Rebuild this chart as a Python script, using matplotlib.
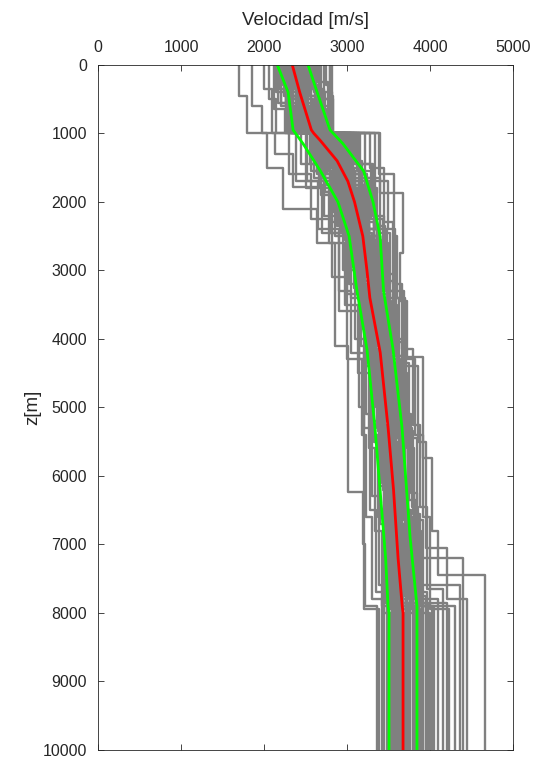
import numpy as np
import matplotlib
matplotlib.use('Agg')
import matplotlib.pyplot as plt

# layer tops (m) and layer velocities (m/s) of each sampled velocity model
prof_z = [
    [0, 450, 1000, 1500, 2100, 2600, 4100, 6230, 7000, 7900],
    [0, 600, 1000, 1300, 1780, 2450, 3600, 5000, 6400, 7950],
    [0, 350, 1000, 1600, 2250, 3100, 4300, 5400, 6600, 7800],
    [0, 500, 1000, 1700, 2400, 3300, 4200, 5300, 6500, 7700],
    [0, 650, 1000, 1450, 2200, 3000, 4000, 5100, 6300, 7600],
    [0, 400, 1000, 1800, 2600, 3500, 4500, 5600, 6800, 7900],
    [0, 550, 1000, 1550, 2300, 3200, 4100, 5200, 6500, 8000],
    [0, 300, 1000, 1650, 2500, 3400, 4400, 5500, 6700, 7850],
    [0, 700, 1000, 1400, 2150, 2900, 3900, 5000, 6200, 7750],
    [0, 450, 1000, 1750, 2450, 3350, 4250, 5350, 6550, 7950],
    [0, 500, 1000, 1500, 2350, 3150, 4150, 5250, 6450, 7650],
    [0, 600, 1000, 1850, 2550, 3450, 4350, 5450, 6650, 7900],
    [0, 350, 1000, 1600, 2300, 3250, 4200, 5300, 6400, 7800],
    [0, 550, 1000, 1700, 2400, 3300, 4300, 5400, 6600, 8000],
    [0, 400, 1000, 1450, 2250, 3050, 4050, 5150, 6350, 7700],
    [0, 650, 1000, 1550, 2350, 3200, 4150, 5250, 6500, 7850],
    [0, 500, 1000, 1800, 2500, 3400, 4400, 5500, 6700, 7950],
    [0, 300, 1000, 1650, 2450, 3350, 4250, 5350, 6550, 7750],
    [0, 600, 1000, 1500, 2300, 3100, 4100, 5200, 6400, 7900],
    [0, 450, 1000, 1750, 2550, 3450, 4350, 5450, 6650, 7800],
    [0, 550, 1000, 1600, 2400, 3250, 4200, 5300, 6500, 7950],
    [0, 350, 1000, 1700, 2500, 3350, 4300, 5400, 6600, 7850],
    [0, 650, 1000, 1450, 2250, 3150, 4050, 5150, 6350, 7700],
    [0, 500, 1000, 1550, 2350, 3300, 4250, 5300, 6450, 8000],
    [0, 400, 1000, 1800, 2600, 3500, 4500, 5600, 6800, 7900],
    [0, 600, 1000, 1650, 2450, 3400, 4350, 5450, 6650, 7800],
    [0, 300, 1000, 1500, 2300, 3200, 4150, 5250, 6450, 7650],
    [0, 550, 1000, 1700, 2400, 3300, 4300, 5400, 6600, 7950],
    [0, 450, 1000, 1870, 2745, 3450, 4260, 5740, 6800, 7450],
    [0, 500, 1000, 1600, 2500, 3400, 4400, 5500, 7050, 7800],
    [0, 350, 1000, 1550, 2350, 3250, 4200, 5300, 6500, 7200],
    [0, 600, 1000, 1650, 2450, 3350, 4250, 5350, 6550, 7600],
    [0, 400, 1000, 1750, 2550, 3300, 4300, 5400, 6600, 7900],
    [0, 500, 1000, 1500, 2300, 3200, 4100, 5200, 6400, 7850],
    [0, 650, 1000, 1800, 2600, 3500, 4500, 5500, 6700, 7750],
    [0, 300, 1000, 1600, 2400, 3300, 4200, 5300, 6500, 8000],
    [0, 250, 1000, 1350, 2050, 2850, 3800, 4900, 6100, 7700],
    [0, 750, 1000, 1900, 2650, 3550, 4600, 5700, 6900, 7950],
    [0, 200, 1000, 1400, 2200, 3000, 3950, 5050, 6250, 7800],
    [0, 800, 1000, 1550, 2300, 3150, 4100, 5200, 6350, 7900],
    [0, 300, 1000, 1700, 2500, 3400, 4350, 5450, 6700, 7700],
    [0, 600, 1000, 1450, 2150, 2950, 3850, 4950, 6150, 7850],
    [0, 450, 1000, 1850, 2650, 3600, 4550, 5650, 6850, 7950],
    [0, 550, 1000, 1500, 2250, 3100, 4000, 5100, 6300, 7600],
    [0, 350, 1000, 1600, 2400, 3300, 4250, 5350, 6550, 7900],
    [0, 650, 1000, 1750, 2550, 3450, 4400, 5500, 6700, 7800],
    [0, 500, 1000, 1650, 2350, 3250, 4200, 5300, 6500, 7950],
    [0, 400, 1000, 1550, 2300, 3150, 4150, 5250, 6450, 7750],
    [0, 700, 1000, 1800, 2600, 3500, 4450, 5550, 6750, 7900],
    [0, 250, 1000, 1450, 2200, 3050, 4000, 5100, 6250, 7850],
    [0, 550, 1000, 1700, 2450, 3350, 4300, 5400, 6600, 7700],
    [0, 450, 1000, 1600, 2350, 3200, 4150, 5250, 6400, 7950],
    [0, 600, 1000, 1500, 2250, 3100, 4100, 5150, 6350, 7800],
    [0, 350, 1000, 1750, 2500, 3400, 4350, 5450, 6650, 7650],
    [0, 500, 1000, 1650, 2400, 3300, 4250, 5350, 6550, 7900],
    [0, 650, 1000, 1550, 2300, 3200, 4150, 5200, 6400, 7800],
    [0, 300, 1000, 1850, 2600, 3500, 4450, 5550, 6750, 7950],
    [0, 450, 1000, 1400, 2150, 2950, 3900, 5000, 6200, 7700],
    [0, 550, 1000, 1600, 2450, 3350, 4300, 5400, 6600, 7850],
    [0, 400, 1000, 1700, 2500, 3400, 4400, 5500, 6700, 7900],
]
prof_v = [
    [1700, 1790, 2040, 2230, 2640, 2860, 3010, 3190, 3220, 3360],
    [1850, 1980, 2130, 2350, 2700, 2900, 3140, 3200, 3200, 3380],
    [2000, 2100, 2300, 2560, 2820, 3000, 3180, 3230, 3300, 3420],
    [2060, 2150, 2380, 2650, 2900, 3050, 3200, 3280, 3350, 3450],
    [2120, 2250, 2450, 2720, 2950, 3100, 3230, 3300, 3380, 3480],
    [2150, 2280, 2500, 2780, 2980, 3130, 3260, 3340, 3420, 3500],
    [2200, 2300, 2560, 2820, 3020, 3170, 3290, 3380, 3440, 3530],
    [2230, 2350, 2600, 2860, 3050, 3200, 3320, 3400, 3470, 3560],
    [2260, 2380, 2620, 2890, 3080, 3220, 3350, 3430, 3500, 3590],
    [2290, 2400, 2660, 2920, 3110, 3250, 3370, 3460, 3530, 3610],
    [2310, 2440, 2700, 2950, 3140, 3270, 3390, 3480, 3550, 3630],
    [2340, 2460, 2730, 2980, 3160, 3290, 3410, 3500, 3570, 3650],
    [2360, 2480, 2760, 3000, 3180, 3310, 3430, 3520, 3590, 3670],
    [2390, 2510, 2800, 3040, 3210, 3340, 3460, 3550, 3620, 3690],
    [2410, 2530, 2830, 3070, 3230, 3360, 3480, 3570, 3640, 3710],
    [2440, 2560, 2860, 3100, 3260, 3390, 3500, 3590, 3660, 3730],
    [2460, 2590, 2890, 3120, 3280, 3400, 3520, 3610, 3680, 3760],
    [2490, 2610, 2920, 3150, 3300, 3420, 3540, 3630, 3700, 3790],
    [2510, 2640, 2950, 3180, 3330, 3440, 3560, 3650, 3720, 3820],
    [2540, 2660, 2980, 3200, 3350, 3470, 3590, 3680, 3750, 3850],
    [2570, 2690, 3010, 3230, 3380, 3490, 3610, 3700, 3770, 3880],
    [2600, 2720, 3050, 3260, 3400, 3520, 3640, 3730, 3800, 3920],
    [2630, 2750, 3080, 3290, 3430, 3550, 3660, 3750, 3830, 3960],
    [2660, 2780, 3120, 3320, 3460, 3570, 3690, 3780, 3860, 4000],
    [2690, 2820, 3160, 3360, 3490, 3600, 3720, 3810, 3890, 4050],
    [2720, 2800, 3220, 3400, 3520, 3630, 3750, 3840, 3920, 4100],
    [2750, 2810, 3280, 3440, 3550, 3660, 3790, 3880, 3960, 4160],
    [2790, 2820, 3340, 3490, 3580, 3690, 3820, 3910, 4000, 4230],
    [2800, 2830, 3400, 3675, 3640, 3720, 3915, 4020, 4100, 4660],
    [2820, 2830, 3380, 3560, 3600, 3700, 3860, 3950, 4200, 4445],
    [2180, 2340, 2600, 2880, 3080, 3230, 3360, 3450, 3530, 4400],
    [2260, 2420, 2700, 2970, 3150, 3290, 3420, 3510, 3590, 4360],
    [2320, 2450, 2740, 3010, 3190, 3320, 3440, 3530, 3600, 4300],
    [2400, 2520, 2820, 3060, 3220, 3350, 3470, 3560, 3630, 4200],
    [2480, 2600, 2900, 3130, 3290, 3410, 3530, 3620, 3690, 3950],
    [2560, 2680, 2990, 3220, 3360, 3480, 3600, 3690, 3760, 3900],
    [2250, 2330, 2580, 2850, 3060, 3210, 3330, 3420, 3490, 3560],
    [2330, 2470, 2690, 2990, 3170, 3300, 3420, 3510, 3580, 3640],
    [2420, 2500, 2790, 3020, 3200, 3330, 3450, 3540, 3610, 3680],
    [2470, 2620, 2870, 3090, 3250, 3380, 3500, 3580, 3650, 3740],
    [2530, 2650, 2960, 3170, 3320, 3430, 3550, 3640, 3710, 3800],
    [2200, 2370, 2550, 2830, 3040, 3190, 3310, 3400, 3470, 3540],
    [2350, 2450, 2720, 2990, 3170, 3300, 3430, 3510, 3580, 3660],
    [2450, 2570, 2850, 3080, 3240, 3370, 3490, 3580, 3650, 3720],
    [2580, 2700, 3030, 3240, 3370, 3490, 3610, 3700, 3770, 3870],
    [2610, 2740, 3060, 3270, 3410, 3530, 3650, 3740, 3810, 3910],
    [2290, 2430, 2680, 2940, 3120, 3260, 3380, 3470, 3540, 3620],
    [2380, 2490, 2780, 3030, 3200, 3330, 3450, 3540, 3610, 3680],
    [2500, 2630, 2940, 3160, 3310, 3430, 3560, 3650, 3720, 3810],
    [2640, 2770, 3100, 3310, 3440, 3560, 3680, 3770, 3840, 3980],
    [2170, 2320, 2520, 2800, 3000, 3150, 3280, 3370, 3440, 3510],
    [2240, 2390, 2640, 2900, 3090, 3240, 3360, 3450, 3520, 3600],
    [2420, 2540, 2840, 3080, 3240, 3370, 3490, 3580, 3650, 3720],
    [2550, 2670, 2990, 3210, 3360, 3480, 3600, 3690, 3760, 3860],
    [2680, 2800, 3140, 3340, 3480, 3590, 3710, 3800, 3880, 4020],
    [2330, 2460, 2710, 2960, 3140, 3280, 3400, 3490, 3560, 3640],
    [2450, 2560, 2860, 3090, 3250, 3380, 3500, 3590, 3660, 3740],
    [2520, 2650, 2960, 3180, 3330, 3450, 3570, 3660, 3730, 3830],
    [2270, 2410, 2660, 2930, 3120, 3260, 3380, 3470, 3540, 3610],
    [2600, 2730, 3040, 3260, 3400, 3520, 3640, 3730, 3800, 3900],
]
z_max = 10000

# mean velocity (red)
mean_z = [0, 400, 950, 1000, 1100, 1400, 1700, 2000, 2500, 3000, 3400, 4200, 5300, 6200, 7200, 7900, 8000, 10000]
mean_v = [2340, 2430, 2570, 2600, 2675, 2880, 3010, 3090, 3190, 3240, 3275, 3400, 3495, 3560, 3615, 3665, 3675, 3675]

# mean - std and mean + std (green)
lo_z = [0, 400, 950, 1150, 1550, 2000, 2500, 3300, 4150, 5300, 7200, 7900, 8000, 10000]
lo_v = [2160, 2290, 2350, 2470, 2680, 2890, 3025, 3120, 3240, 3337, 3465, 3494, 3506, 3506]
hi_z = [0, 400, 950, 1150, 1550, 2000, 2500, 3300, 4150, 5300, 6900, 7900, 8000, 10000]
hi_v = [2530, 2640, 2795, 2950, 3200, 3313, 3398, 3440, 3554, 3663, 3760, 3843, 3843, 3843]

plt.rcParams['font.family'] = ['Liberation Sans', 'DejaVu Sans']
fig = plt.figure(figsize=(5.33, 7.59), dpi=100)
ax = fig.add_axes([0.184, 0.012, 0.7785, 0.9025])

for zs, vs in zip(prof_z, prof_v):
    bottoms = zs[1:] + [z_max]
    y = np.ravel(np.column_stack([zs, bottoms]))
    x = np.repeat(vs, 2)
    ax.plot(x, y, color='#808080', lw=1.7)

ax.plot(lo_v, lo_z, color='#00ff00', lw=2.0)
ax.plot(hi_v, hi_z, color='#00ff00', lw=2.0)
ax.plot(mean_v, mean_z, color='#ff0000', lw=2.0)

ax.set_xlim(0, 5000)
ax.set_ylim(10000, 0)
ax.set_xticks(np.arange(0, 5001, 1000))
ax.set_yticks(np.arange(0, 10001, 1000))
ax.xaxis.set_label_position('top')
ax.xaxis.tick_top()
ax.tick_params(direction='in', top=True, bottom=True, left=True, right=True,
               labeltop=True, labelbottom=False, labelsize=11.5, colors='#262626',
               length=4, width=0.6)
ax.tick_params(axis='x', pad=7)
ax.tick_params(axis='y', pad=8)
ax.set_xlabel('Velocidad [m/s]', fontsize=13.5, color='#262626', labelpad=11)
ax.set_ylabel('z[m]', fontsize=13.5, color='#262626', labelpad=1)
for s in ax.spines.values():
    s.set_color('#262626')
    s.set_linewidth(0.6)

fig.savefig('out.png', dpi=100)
